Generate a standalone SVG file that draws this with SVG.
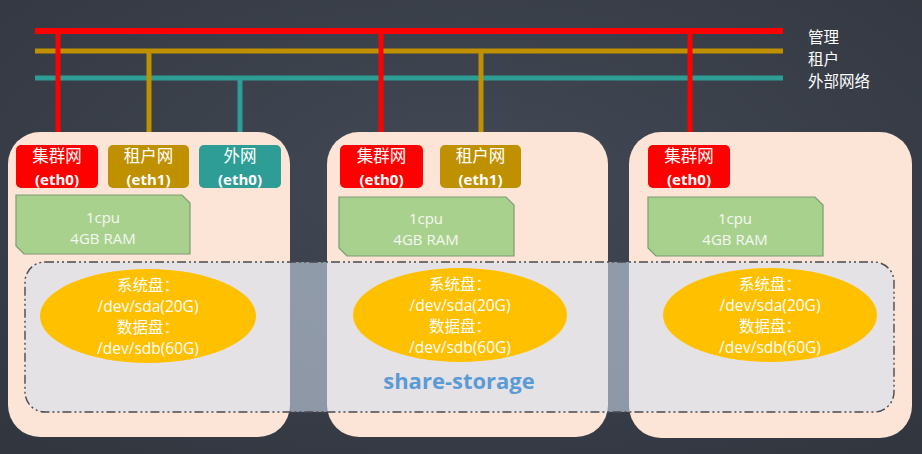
<svg xmlns="http://www.w3.org/2000/svg" width="922" height="454" viewBox="0 0 922 454">
<defs>
<radialGradient id="bg" cx="50%" cy="40%" r="75%">
<stop offset="0" stop-color="#434955"/>
<stop offset="1" stop-color="#31363f"/>
</radialGradient>
<style>
.host{fill:#fce4d6}
.red{fill:#ff0000}
.gold{fill:#bf9000}
.teal{fill:#2e9d96}
.cpu{fill:#a9d18e;stroke:#7e9c74;stroke-width:1.2}
.cn{font-family:"Noto Sans CJK SC","Noto Sans",sans-serif;fill:#ffffff;text-anchor:middle}
.en{font-family:"Open Sans","Liberation Sans",sans-serif;fill:#ffffff;text-anchor:middle}
.eth{font-size:15px;font-weight:bold}
.net{font-size:16.5px}
.cpt{font-size:15px;fill:#f4f8f0}
.disk{fill:#ffc000}
.dt{font-size:15.5px}
.dc{font-size:15.5px}
.legend{font-family:"Noto Sans CJK SC",sans-serif;fill:#ffffff;font-size:15.5px}
.store{fill:#d2e1f3;fill-opacity:0.56;stroke:#4a4a50;stroke-width:1.4;stroke-dasharray:9 3 2 3 2 3}
.conn{fill:none}
</style>
</defs>
<rect width="922" height="454" fill="url(#bg)"/>

<g id="connectors" class="conn">
<line x1="35" y1="31" x2="783" y2="31" stroke="#ff0000" stroke-width="6"/>
<line x1="35" y1="51" x2="783" y2="51" stroke="#bf9000" stroke-width="5"/>
<line x1="35" y1="78" x2="783" y2="78" stroke="#2e9d96" stroke-width="5"/>
<line x1="58" y1="31" x2="58" y2="146" stroke="#ff0000" stroke-width="5"/>
<line x1="149" y1="51" x2="149" y2="146" stroke="#bf9000" stroke-width="5"/>
<line x1="240" y1="78" x2="240" y2="146" stroke="#2e9d96" stroke-width="5"/>
<line x1="381" y1="31" x2="381" y2="146" stroke="#ff0000" stroke-width="5"/>
<line x1="481" y1="51" x2="481" y2="146" stroke="#bf9000" stroke-width="5"/>
<line x1="690" y1="31" x2="690" y2="146" stroke="#ff0000" stroke-width="5"/>
</g>

<g id="legend" class="legend">
<text x="808" y="43">管理</text>
<text x="808" y="65">租户</text>
<text x="808" y="87">外部网络</text>
</g>

<g id="node1">
<rect class="host" x="8" y="132" width="282" height="305" rx="32"/>
<rect class="red" x="16" y="145" width="82" height="43" rx="5"/>
<text class="cn net" x="57" y="162">集群网</text>
<text class="en eth" x="57" y="185">(eth0)</text>
<rect class="gold" x="108" y="145" width="81" height="43" rx="5"/>
<text class="cn net" x="148.5" y="162">租户网</text>
<text class="en eth" x="148.5" y="185">(eth1)</text>
<rect class="teal" x="199" y="145" width="82" height="43" rx="5"/>
<text class="cn net" x="240" y="162">外网</text>
<text class="en eth" x="240" y="185">(eth0)</text>
<path class="cpu" d="M16,195 H182 L190,203 V254 H24 L16,246 Z"/>
<text class="en cpt" x="103" y="223">1cpu</text>
<text class="en cpt" x="103" y="244">4GB RAM</text>
</g>

<g id="node2">
<rect class="host" x="327" y="132" width="281" height="305" rx="32"/>
<rect class="red" x="340" y="145" width="83" height="43" rx="5"/>
<text class="cn net" x="381.5" y="162">集群网</text>
<text class="en eth" x="381.5" y="185">(eth0)</text>
<rect class="gold" x="440" y="145" width="81" height="43" rx="5"/>
<text class="cn net" x="480.5" y="162">租户网</text>
<text class="en eth" x="480.5" y="185">(eth1)</text>
<path class="cpu" d="M339,197 H506 L514,205 V256 H347 L339,248 Z"/>
<text class="en cpt" x="426" y="224">1cpu</text>
<text class="en cpt" x="426" y="245">4GB RAM</text>
</g>

<g id="node3">
<rect class="host" x="629" y="132" width="283" height="306" rx="32"/>
<rect class="red" x="648" y="145" width="82" height="43" rx="5"/>
<text class="cn net" x="689" y="162">集群网</text>
<text class="en eth" x="689" y="185">(eth0)</text>
<path class="cpu" d="M648,197 H815 L823,205 V256 H656 L648,248 Z"/>
<text class="en cpt" x="735" y="224">1cpu</text>
<text class="en cpt" x="735" y="245">4GB RAM</text>
</g>

<g id="share-storage">
<rect class="store" x="25" y="262" width="869" height="150" rx="20"/>
<text x="459" y="389" font-family="'Open Sans','Liberation Sans',sans-serif" font-size="22" font-weight="bold" fill="#5b9bd5" text-anchor="middle">share-storage</text>
</g>

<g id="disk1">
<ellipse class="disk" cx="148" cy="316" rx="108" ry="47"/>
<text class="cn dc" x="148" y="291">系统盘：</text>
<text class="en dt" x="148" y="312">/dev/sda(20G)</text>
<text class="cn dc" x="148" y="333">数据盘：</text>
<text class="en dt" x="148" y="354">/dev/sdb(60G)</text>
</g>

<g id="disk2">
<ellipse class="disk" cx="460" cy="315" rx="107" ry="47"/>
<text class="cn dc" x="460" y="290">系统盘：</text>
<text class="en dt" x="460" y="311">/dev/sda(20G)</text>
<text class="cn dc" x="460" y="332">数据盘：</text>
<text class="en dt" x="460" y="353">/dev/sdb(60G)</text>
</g>

<g id="disk3">
<ellipse class="disk" cx="770" cy="315" rx="107" ry="47"/>
<text class="cn dc" x="770" y="290">系统盘：</text>
<text class="en dt" x="770" y="311">/dev/sda(20G)</text>
<text class="cn dc" x="770" y="332">数据盘：</text>
<text class="en dt" x="770" y="353">/dev/sdb(60G)</text>
</g>
</svg>
